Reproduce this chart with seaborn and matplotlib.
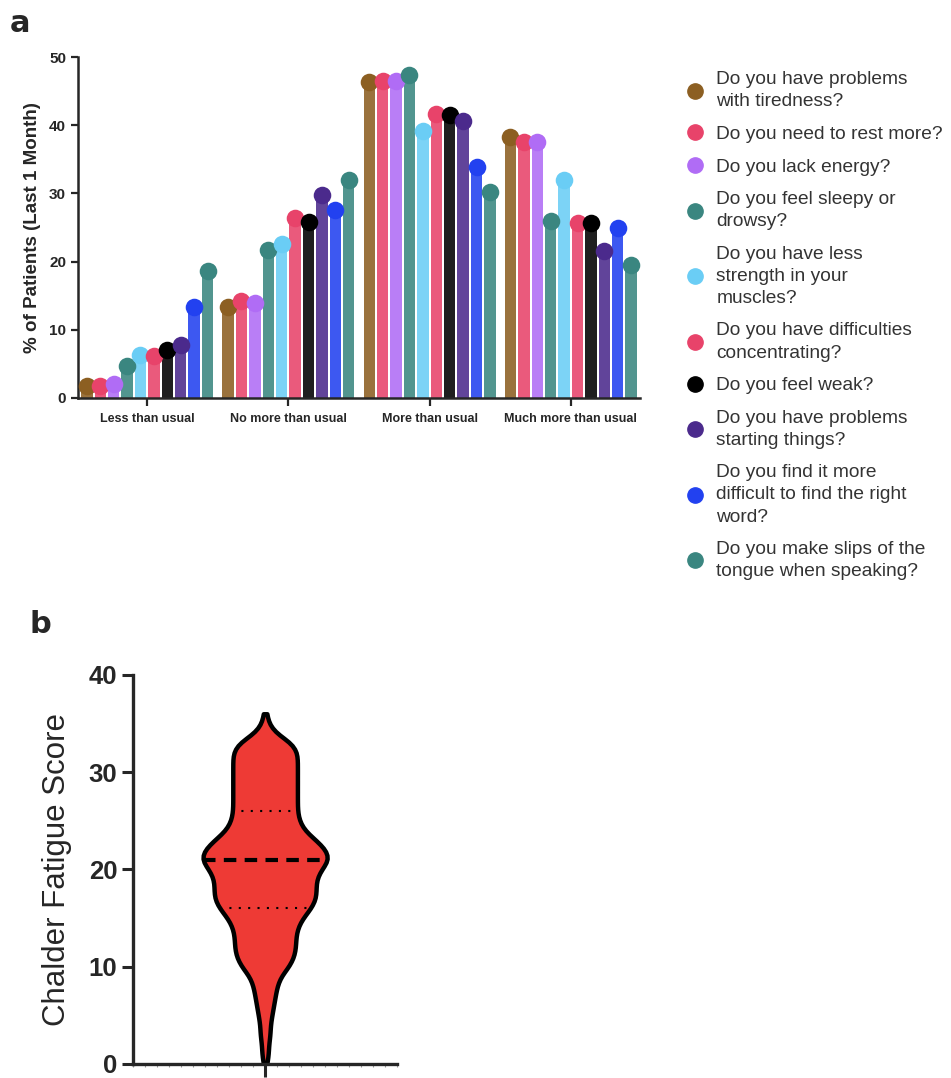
import numpy as np
import pandas as pd
import seaborn as sns
import matplotlib.pyplot as plt
from matplotlib.lines import Line2D
from matplotlib.ticker import MultipleLocator

# panel a data
responses = ["Less than usual", "No more than usual", "More than usual", "Much more than usual"]
questions = [
    "Do you have problems\nwith tiredness?",
    "Do you need to rest more?",
    "Do you lack energy?",
    "Do you feel sleepy or\ndrowsy?",
    "Do you have less\nstrength in your\nmuscles?",
    "Do you have difficulties\nconcentrating?",
    "Do you feel weak?",
    "Do you have problems\nstarting things?",
    "Do you find it more\ndifficult to find the right\nword?",
    "Do you make slips of the\ntongue when speaking?",
]
colors = ["#8c5f22", "#e8436a", "#b06cf5", "#3a8680", "#6acdf5",
          "#e8436a", "#000000", "#4b2a8c", "#2241f0", "#3a8680"]

less_than_usual = [1.7, 1.7, 2.0, 4.7, 6.3, 6.2, 7.1, 7.8, 13.4, 18.6]
no_more_than_usual = [13.4, 14.2, 14.0, 21.7, 22.6, 26.4, 25.8, 29.8, 27.5, 31.9]
more_than_usual = [46.4, 46.5, 46.5, 47.3, 39.2, 41.7, 41.5, 40.6, 33.9, 30.2]
much_more_than_usual = [38.3, 37.5, 37.5, 26.0, 31.9, 25.7, 25.7, 21.6, 25.0, 19.5]

# panel b data (Chalder fatigue score counts, estimated from violin shape)
scores = list(range(0, 37))
score_counts = [1, 2, 2, 3, 3, 4, 5, 6, 7, 9,
                14, 17, 18, 18, 19, 22, 27, 30, 30, 30,
                33, 38, 36, 30, 23, 20, 19, 19, 19, 19,
                19, 19, 19, 16, 6, 2, 1]

rows = []
for resp, vals in zip(responses, [less_than_usual, no_more_than_usual,
                                  more_than_usual, much_more_than_usual]):
    for q, v in zip(questions, vals):
        rows.append({"response": resp, "question": q, "pct": v})
df = pd.DataFrame(rows)

fatigue = pd.DataFrame({"score": np.repeat(scores, score_counts)})
fatigue["group"] = ""

sns.set_style("ticks")
plt.rcParams["font.family"] = ["Liberation Sans", "DejaVu Sans"]

fig = plt.figure(figsize=(9.51, 10.78), dpi=100)

# ---- panel a ----
ax = fig.add_axes([0.082, 0.6308, 0.591, 0.3163])
sns.barplot(data=df, x="response", y="pct", hue="question", hue_order=questions,
            palette=colors, width=0.95, gap=0.15, saturation=1, legend=False,
            edgecolor=None, linewidth=0, ax=ax)
for cont, col in zip(ax.containers, colors):
    for bar in cont:
        bar.set_alpha(0.88)
        ax.scatter(bar.get_x() + bar.get_width() / 2, bar.get_height(),
                   s=160, color=col, zorder=5, linewidths=0)

ax.set_xlim(-0.49, 3.49)
ax.set_ylim(0, 50)
ax.set_yticks([0, 10, 20, 30, 40, 50])
ax.set_ylabel("% of Patients (Last 1 Month)", fontsize=13.5, fontweight="bold", labelpad=6)
ax.set_xlabel("")
ax.tick_params(axis="y", labelsize=11, width=1.6, length=5)
ax.tick_params(axis="x", labelsize=9, width=1.6, length=6, pad=5)
for lab in ax.get_xticklabels() + ax.get_yticklabels():
    lab.set_fontweight("bold")
for s in ["left", "bottom"]:
    ax.spines[s].set_linewidth(1.8)
sns.despine(ax=ax)

handles = [Line2D([], [], marker="o", linestyle="", color=c, markersize=11) for c in colors]
leg = fig.legend(handles, questions, loc="upper left", bbox_to_anchor=(0.703, 0.95),
                 frameon=False, fontsize=13.8, labelcolor="#333333",
                 handletextpad=0.6, labelspacing=0.8, handlelength=1.0)
for t in leg.get_texts():
    t.set_linespacing(1.4)

fig.text(0.01, 0.970, "a", fontsize=22, fontweight="bold", family="DejaVu Sans")
fig.text(0.031, 0.413, "b", fontsize=22, fontweight="bold", family="DejaVu Sans")

# ---- panel b ----
bx = fig.add_axes([0.14, 0.013, 0.2775, 0.361])
sns.violinplot(data=fatigue, x="group", y="score", color="#ee3a35", saturation=1,
               cut=0, inner="quart", bw_adjust=0.35, width=0.47, linewidth=3.2,
               linecolor="black", inner_kws=dict(color="black"), ax=bx)
# quartile lines come in order q1, median, q3
for i, ln in enumerate(bx.lines[-3:]):
    if i == 1:
        ln.set_linewidth(3.0)
        ln.set_dashes([3, 2])
    else:
        ln.set_linewidth(1.5)
        ln.set_dashes([1, 3.5])
bx.set_xlim(-0.5, 0.5)
bx.set_ylim(0, 40)
bx.set_yticks([0, 10, 20, 30, 40])
bx.set_xlabel("")
bx.set_ylabel("Chalder Fatigue Score", fontsize=22.5, labelpad=12)
bx.set_xticks([0])
bx.set_xticklabels([""])
bx.xaxis.set_minor_locator(MultipleLocator(1 / 22))
bx.tick_params(axis="y", labelsize=18.5, width=2.2, length=8)
bx.tick_params(axis="x", which="major", width=2.2, length=9)
bx.tick_params(axis="x", which="minor", width=0.8, length=2.5, color="#999999")
for lab in bx.get_yticklabels():
    lab.set_fontweight("bold")
for s in ["left", "bottom"]:
    bx.spines[s].set_linewidth(2.4)
sns.despine(ax=bx)

fig.savefig("out.png", dpi=100)
